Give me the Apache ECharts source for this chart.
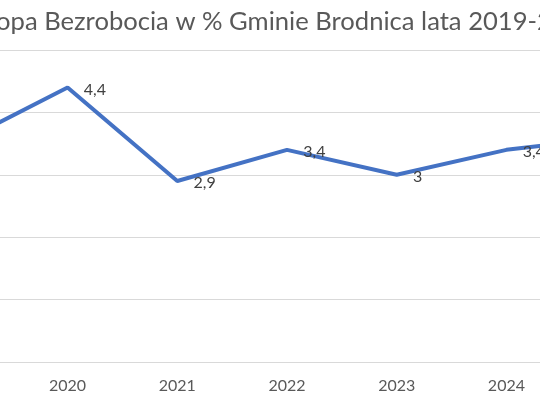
<!DOCTYPE html>
<html>
<head>
<meta charset="utf-8">
<script src="https://cdn.jsdelivr.net/npm/echarts@6/dist/echarts.min.js"></script>
<style>
  html, body { margin: 0; padding: 0; background: #fff; overflow: hidden; }
  #wrap { position: relative; width: 540px; height: 407px; overflow: hidden; }
  /* the reference is a crop of a wider chart, so the chart is wider than the window */
  #chart { position: absolute; left: -130px; top: 0; width: 830px; height: 407px; }
</style>
</head>
<body>
<div id="wrap"><div id="chart"></div></div>
<script>
var years = ['2019', '2020', '2021', '2022', '2023', '2024', '2025'];
var rate = [3.5, 4.4, 2.9, 3.4, 3.0, 3.4, 3.6];
var yTicks = [0, 1, 2, 3, 4, 5];

var myChart = echarts.init(document.getElementById('chart'));

var options = {
	backgroundColor: '#fff',
	animation: false,
	title: {
		text: 'Stopa Bezrobocia w % Gminie Brodnica lata 2019-2025',
		left: 'center',
		top: 4,
		padding: [5, 13, 5, 5],
		textStyle: {
			fontFamily: 'Lato',
			fontWeight: 'normal',
			fontSize: 25.6,
			color: '#595959'
		}
	},
	grid: {
		left: 33,
		right: 29,
		top: 50,
		bottom: 45
	},
	xAxis: {
		type: 'category',
		data: years,
		boundaryGap: true,
		axisLine: { lineStyle: { color: '#d9d9d9', width: 1 } },
		axisTick: { show: false },
		axisLabel: {
			margin: 16,
			fontFamily: 'Lato',
			fontSize: 16,
			color: '#595959'
		}
	},
	yAxis: {
		type: 'value',
		min: yTicks[0],
		max: yTicks[yTicks.length - 1],
		interval: 1,
		axisLine: { show: false },
		axisTick: { show: false },
		axisLabel: { show: false },
		splitLine: { lineStyle: { color: '#d9d9d9', width: 1 } }
	},
	series: [{
		type: 'line',
		data: rate,
		symbol: 'circle',
		symbolSize: 0.5,
		showSymbol: true,
		itemStyle: { color: '#4472C4' },
		lineStyle: { color: '#4472C4', width: 4 },
		label: {
			show: true,
			position: 'right',
			distance: 16,
			offset: [0, 2],
			fontFamily: 'Lato',
			fontSize: 16,
			color: '#404040',
			formatter: function (p) {
				return String(p.value).replace('.', ',');
			}
		}
	}]
};

myChart.setOption(options);
</script>
</body>
</html>
